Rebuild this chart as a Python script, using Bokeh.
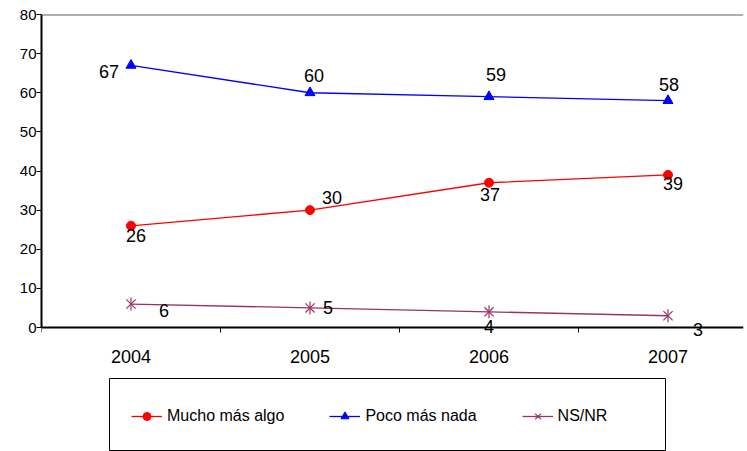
from bokeh.plotting import figure
from bokeh.models import (ColumnDataSource, Range1d, FixedTicker, LabelSet,
                          Legend, LegendItem, BoxAnnotation, Span)
from bokeh.core.properties import value
from bokeh.embed import file_html
from bokeh.resources import INLINE

years = ["2004", "2005", "2006", "2007"]
mucho = [26, 30, 37, 39]
poco = [67, 60, 59, 58]
nsnr = [6, 5, 4, 3]
y_ticks = [0, 10, 20, 30, 40, 50, 60, 70, 80]

# label offsets (screen px, y up)
mucho_dx = [5, 22, 1, 5]
mucho_dy = [-10, 13, -12, -9]
poco_dx = [-22, 4, 7, 1]
poco_dy = [-6, 17, 22, 16]
ns_dx = [33, 18, 0, 30]
ns_dy = [-6, 0, -15, -14]

xs = [i + 1 for i in range(len(years))]
FONT = "Liberation Sans"
RED = "#FF0000"
BLUE = "#0000FF"
PLUM = "#993366"

# layout (pixels)
W, H = 747, 451
LEFT, TOP, RIGHT = 41, 14, 4
AXIS_Y = 327            # pixel row of value 0
CAT_W = 179             # pixels per category
plot_h = AXIS_Y - TOP   # pixels spanned by 0..80
frame_h = H - TOP
y_max = y_ticks[-1]
y_min = -y_max * (frame_h - plot_h) / plot_h
x_end = 0.5 + (W - LEFT - RIGHT) / CAT_W

p = figure(width=W, height=H, output_backend="svg", toolbar_location=None,
           x_range=Range1d(0.5, x_end), y_range=Range1d(y_min, y_max),
           min_border_left=LEFT, min_border_right=RIGHT, min_border_top=TOP,
           min_border_bottom=0)
p.background_fill_color = "white"
p.border_fill_color = "white"
p.outline_line_color = None
p.xgrid.grid_line_color = None
p.ygrid.grid_line_color = None

# top border of the plot area
p.add_layout(Span(location=y_max, dimension="width", line_color="#606060", line_width=2))

# x axis at value 0: ticks at category boundaries (minor), labels at centers (major)
p.xaxis.fixed_location = 0
p.xaxis.ticker = FixedTicker(ticks=xs, minor_ticks=[0.5, 1.5, 2.5, 3.5, 4.5])
p.xaxis.major_label_overrides = {x: y for x, y in zip(xs, years)}
p.xaxis.major_tick_line_color = None
p.xaxis.major_tick_out = 0
p.xaxis.major_tick_in = 0
p.xaxis.minor_tick_line_color = "black"
p.xaxis.minor_tick_out = 5
p.xaxis.minor_tick_in = 0
p.xaxis.axis_line_color = "black"
p.xaxis.axis_line_width = 2
p.xaxis.major_label_standoff = 17
p.xaxis.major_label_text_font = FONT
p.xaxis.major_label_text_font_size = "18px"
p.xaxis.major_label_text_color = "black"

p.yaxis.bounds = (0, y_max)
p.yaxis.ticker = FixedTicker(ticks=y_ticks, minor_ticks=[])
p.yaxis.axis_line_color = "black"
p.yaxis.axis_line_width = 2
p.yaxis.major_tick_line_color = "black"
p.yaxis.major_tick_out = 5
p.yaxis.major_tick_in = 0
p.yaxis.major_label_standoff = 0
p.yaxis.major_label_text_font = FONT
p.yaxis.major_label_text_font_size = "15px"
p.yaxis.major_label_text_color = "black"

src_m = ColumnDataSource(dict(x=xs, y=mucho, t=[str(v) for v in mucho], dx=mucho_dx, dy=mucho_dy))
src_p = ColumnDataSource(dict(x=xs, y=poco, t=[str(v) for v in poco], dx=poco_dx, dy=poco_dy))
src_n = ColumnDataSource(dict(x=xs, y=nsnr, t=[str(v) for v in nsnr], dx=ns_dx, dy=ns_dy))

lm = p.line("x", "y", source=src_m, line_color=RED, line_width=1.3)
sm = p.scatter("x", "y", source=src_m, marker="circle", size=9, fill_color=RED, line_color=RED)
lp = p.line("x", "y", source=src_p, line_color=BLUE, line_width=1.3)
sp = p.scatter("x", "y", source=src_p, marker="triangle", size=10, fill_color=BLUE, line_color=BLUE)
ln = p.line("x", "y", source=src_n, line_color=PLUM, line_width=1.3)
sn1 = p.scatter("x", "y", source=src_n, marker="x", size=13, line_color=PLUM, line_width=1.2)
sn2 = p.scatter("x", "y", source=src_n, marker="dash", size=13, angle=1.5708, line_color=PLUM, line_width=1.2)

for src in (src_m, src_p, src_n):
    p.add_layout(LabelSet(x="x", y="y", text="t", x_offset="dx", y_offset="dy", source=src,
                          text_align="center", text_baseline="middle",
                          text_font=value(FONT), text_font_size="18px", text_color="black"))

# legend frame (screen units relative to the plot frame, origin bottom-left)
p.add_layout(BoxAnnotation(left=109 - LEFT, right=665 - LEFT, top=H - 378, bottom=1,
                           left_units="screen", right_units="screen",
                           top_units="screen", bottom_units="screen",
                           fill_alpha=0, line_color="black", line_width=1,
                           line_alpha=1))

legend = Legend(items=[LegendItem(label="Mucho más algo", renderers=[lm, sm]),
                       LegendItem(label="Poco más nada", renderers=[lp, sp]),
                       LegendItem(label="NS/NR", renderers=[ln, sn1, sn2])],
                orientation="horizontal", location=(131 - LEFT, H - 426),
                padding=0, margin=0, spacing=45, label_standoff=5,
                glyph_width=31, glyph_height=20, label_height=20,
                border_line_color=None, background_fill_alpha=0,
                label_text_font=FONT, label_text_font_size="16px",
                label_text_color="black")
p.add_layout(legend, "center")

open("out.html", "w").write(file_html(p, INLINE))
